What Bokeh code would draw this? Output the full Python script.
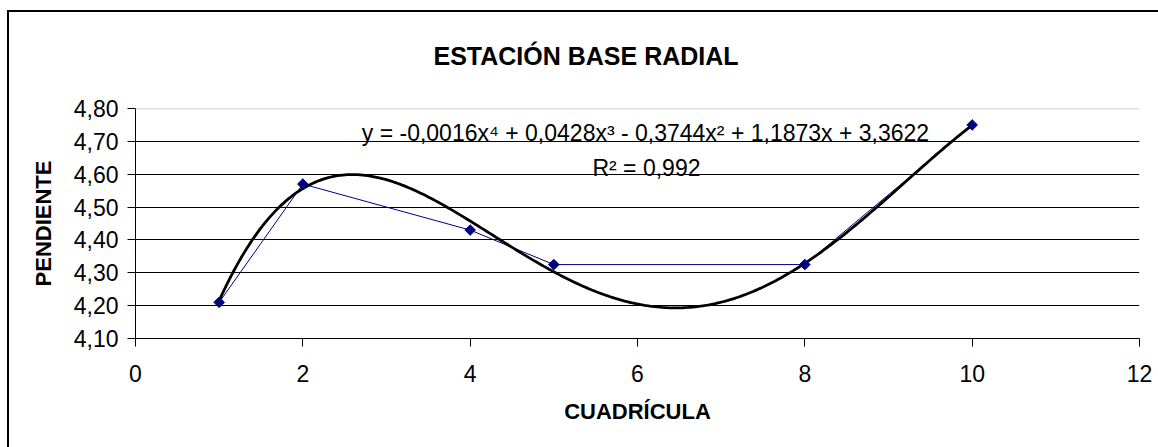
import numpy as np
from bokeh.plotting import figure
from bokeh.models import FixedTicker, Span, Label, Range1d, Title
from bokeh.embed import file_html
from bokeh.resources import INLINE

# ---- data ----
x_vals = [1, 2, 4, 5, 8, 10]
y_vals = [4.21, 4.57, 4.43, 4.325, 4.325, 4.75]
x_ticks = [0, 2, 4, 6, 8, 10, 12]
y_ticks = [4.10, 4.20, 4.30, 4.40, 4.50, 4.60, 4.70, 4.80]
y_tick_labels = ["4,10", "4,20", "4,30", "4,40", "4,50", "4,60", "4,70", "4,80"]
trend_degree = 4
title_text = "ESTACIÓN BASE RADIAL"
x_label_text = "CUADRÍCULA"
y_label_text = "PENDIENTE"
equation_text = "y = -0,0016x⁴ + 0,0428x³ - 0,3744x² + 1,1873x + 3,3622"
r2_text = "R² = 0,992"

FONT = "Liberation Sans"
FS = "23px"

# polynomial trendline (least squares, like the spreadsheet's trendline)
coef = np.polyfit(x_vals, y_vals, trend_degree)
tx = np.linspace(min(x_vals), max(x_vals), 300)
ty = np.polyval(coef, tx)

p = figure(width=1158, height=447, output_backend="svg", toolbar_location=None,
           x_range=Range1d(0, 12), y_range=Range1d(4.10, 4.80),
           min_border_left=135, min_border_right=19,
           min_border_top=108, min_border_bottom=109)
p.outline_line_color = None
p.background_fill_color = "white"
p.border_fill_color = None
# chart border (only left and top edges fall inside the window)
p.styles = {
    "background-image": "linear-gradient(black, black), linear-gradient(black, black)",
    "background-size": "2px 100%, 100% 2px",
    "background-position": "7px 10px, 7px 10px",
    "background-repeat": "no-repeat",
}

# title
p.title = Title(text=title_text, align="left", offset=298, standoff=77,
                text_font=FONT, text_font_size="25px", text_font_style="bold",
                text_color="black")

# axes
for ax in (p.xaxis, p.yaxis):
    ax.axis_line_color = "black"
    ax.axis_line_width = 1
    ax.major_tick_line_color = "black"
    ax.major_tick_out = 8
    ax.major_tick_in = 0
    ax.minor_tick_line_color = None
    ax.major_label_text_font = FONT
    ax.major_label_text_font_size = FS
    ax.major_label_text_color = "black"
    ax.axis_label_text_font = FONT
    ax.axis_label_text_font_size = "22px"
    ax.axis_label_text_font_style = "bold"
    ax.axis_label_text_color = "black"

p.xaxis.ticker = FixedTicker(ticks=x_ticks)
p.yaxis.ticker = FixedTicker(ticks=y_ticks)
p.yaxis.major_label_overrides = {t: l for t, l in zip(y_ticks, y_tick_labels)}
p.xaxis.major_label_standoff = 18
p.yaxis.major_label_standoff = 9
p.xaxis.axis_label = x_label_text
p.yaxis.axis_label = y_label_text
p.xaxis.axis_label_standoff = 14
p.yaxis.axis_label_standoff = 15

# grid
p.xgrid.visible = False
p.ygrid.ticker = FixedTicker(ticks=y_ticks[1:-1])
p.ygrid.grid_line_color = "black"
p.ygrid.grid_line_width = 1
p.add_layout(Span(location=y_ticks[-1], dimension="width",
                  line_color="#c0c0c0", line_width=1.5))

# series
p.line(x_vals, y_vals, line_color="#000080", line_width=1)
p.line(tx, ty, line_color="black", line_width=2.8)
p.scatter(x_vals, y_vals, marker="square", angle=np.pi / 4, size=7.5,
          fill_color="#000080", line_color="#000080")

# trendline texts
p.add_layout(Label(x=6.095, y=4.7248, text=equation_text, text_font=FONT,
                   text_font_size=FS, text_align="center",
                   text_baseline="alphabetic", text_color="black"))
p.add_layout(Label(x=6.107, y=4.6183, text=r2_text, text_font=FONT,
                   text_font_size=FS, text_align="center",
                   text_baseline="alphabetic", text_color="black"))

open("out.html", "w").write(file_html(p, INLINE))
